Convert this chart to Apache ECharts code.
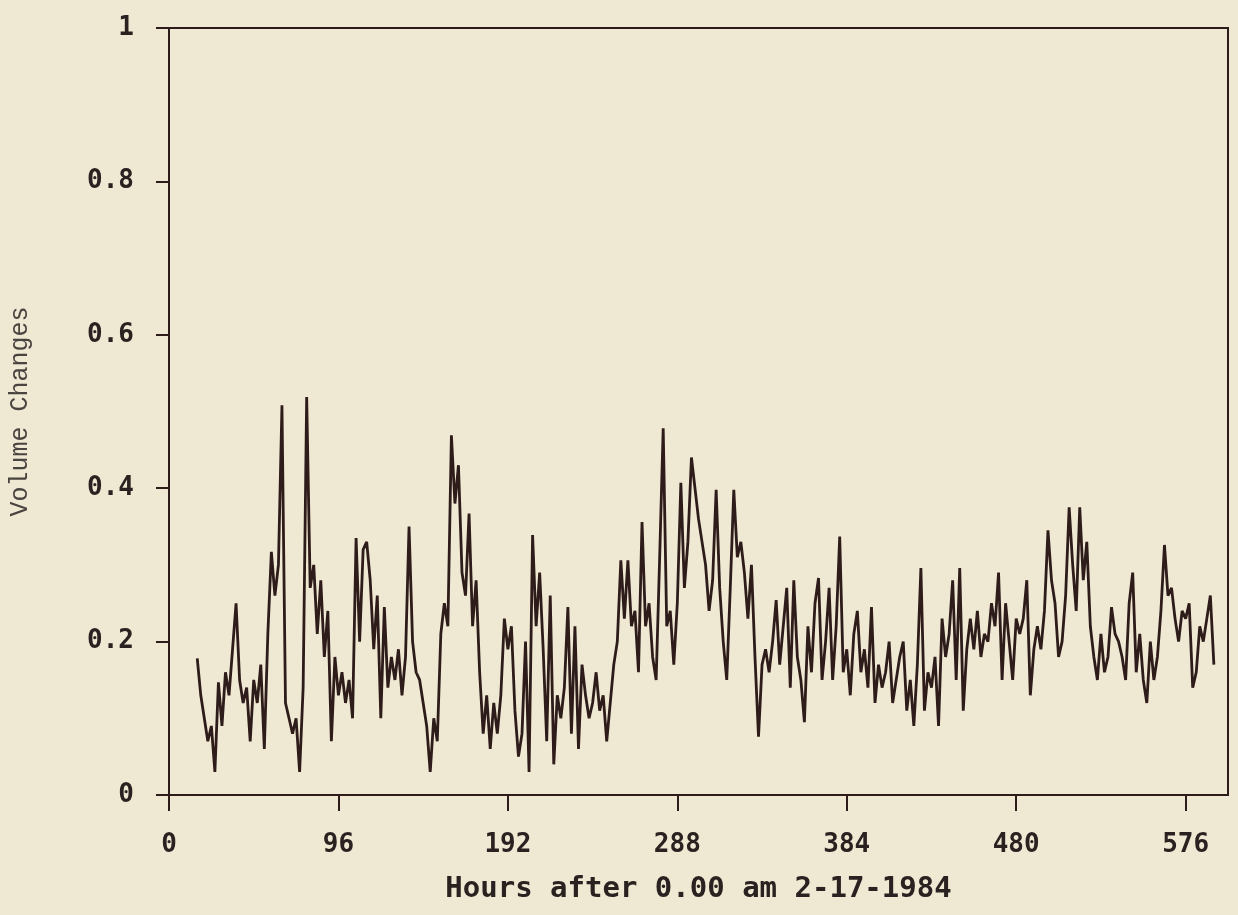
<!DOCTYPE html>
<html>
<head>
<meta charset="utf-8">
<script src="https://cdn.jsdelivr.net/npm/echarts@6/dist/echarts.min.js"></script>
<style>
html,body{margin:0;padding:0;background:#efe8d2;}
#chart{width:1238px;height:915px;}
</style>
</head>
<body>
<div id="chart"></div>
<script>
// Time axis: first sample hour and sampling step (hours)
const START_HOUR = 16;
const STEP_HOURS = 2;
// Volume changes, one value per 2 hours (hours 16..592)
const volumeChanges = [
  0.178,0.13,0.10,0.07,0.09,0.03,0.147,0.09,0.16,0.13,0.19,0.25,0.15,0.12,0.14,0.07,0.15,0.12,0.17,0.06,
  0.21,0.317,0.26,0.30,0.508,0.12,0.10,0.08,0.10,0.03,0.14,0.519,0.27,0.30,0.21,0.28,0.18,0.24,0.07,0.18,
  0.13,0.16,0.12,0.15,0.10,0.335,0.20,0.32,0.33,0.28,0.19,0.26,0.10,0.245,0.14,0.18,0.15,0.19,0.13,0.18,
  0.35,0.20,0.16,0.15,0.12,0.09,0.03,0.10,0.07,0.21,0.25,0.22,0.469,0.38,0.43,0.29,0.26,0.367,0.22,0.28,
  0.16,0.08,0.13,0.06,0.12,0.08,0.13,0.23,0.19,0.22,0.11,0.05,0.08,0.20,0.03,0.339,0.22,0.29,0.19,0.07,
  0.26,0.04,0.13,0.10,0.14,0.245,0.08,0.22,0.06,0.17,0.13,0.10,0.12,0.16,0.11,0.13,0.07,0.12,0.17,0.20,
  0.306,0.23,0.306,0.22,0.24,0.16,0.356,0.22,0.25,0.18,0.15,0.31,0.478,0.22,0.24,0.17,0.25,0.407,0.27,0.33,
  0.44,0.40,0.36,0.33,0.30,0.24,0.28,0.398,0.27,0.20,0.15,0.27,0.398,0.31,0.33,0.29,0.23,0.30,0.18,0.076,
  0.17,0.19,0.16,0.20,0.254,0.17,0.22,0.27,0.14,0.28,0.18,0.15,0.095,0.22,0.16,0.25,0.283,0.15,0.20,0.27,
  0.15,0.22,0.337,0.16,0.19,0.13,0.21,0.24,0.16,0.19,0.14,0.245,0.12,0.17,0.14,0.16,0.20,0.12,0.15,0.18,
  0.20,0.11,0.15,0.09,0.17,0.296,0.11,0.16,0.14,0.18,0.09,0.23,0.18,0.21,0.28,0.15,0.296,0.11,0.19,0.23,
  0.19,0.24,0.18,0.21,0.20,0.25,0.22,0.29,0.15,0.25,0.20,0.15,0.23,0.21,0.23,0.28,0.13,0.19,0.22,0.19,
  0.24,0.345,0.28,0.25,0.18,0.20,0.26,0.375,0.30,0.24,0.375,0.28,0.33,0.22,0.18,0.15,0.21,0.16,0.18,0.245,
  0.21,0.20,0.18,0.15,0.25,0.29,0.16,0.21,0.15,0.12,0.20,0.15,0.18,0.24,0.326,0.26,0.27,0.23,0.20,0.24,
  0.23,0.25,0.14,0.16,0.22,0.20,0.23,0.26,0.17
];
const xTicks = [0, 96, 192, 288, 384, 480, 576];
const yTicks = [0, 0.2, 0.4, 0.6, 0.8, 1];
const xTitle = 'Hours after 0.00 am 2-17-1984';
const yTitle = 'Volume Changes';

const seriesData = volumeChanges.map((v, i) => [START_HOUR + i * STEP_HOURS, v]);
const ink = '#2e1c1b';
const labelFont = {fontFamily: 'DejaVu Sans Mono', fontWeight: 'bold', fontSize: 26, color: '#2a2220'};

const chart = echarts.init(document.getElementById('chart'), null, {renderer: 'canvas'});
chart.setOption({
  backgroundColor: '#efe8d2',
  animation: false,
  grid: {left: 167, right: 10, top: 28, bottom: 120, show: true, borderColor: ink, borderWidth: 2, backgroundColor: 'transparent'},
  xAxis: {
    type: 'value', min: 0, max: 600, interval: 96,
    axisLine: {show: true, onZero: false, lineStyle: {color: ink, width: 2}},
    axisTick: {show: true, inside: false, length: 16, lineStyle: {color: ink, width: 2}, customValues: xTicks},
    axisLabel: Object.assign({margin: 37, customValues: xTicks}, labelFont),
    splitLine: {show: false},
    name: xTitle, nameLocation: 'middle', nameGap: 80,
    nameTextStyle: {fontFamily: 'DejaVu Sans Mono', fontWeight: 'bold', fontSize: 29, color: '#2a2220'}
  },
  yAxis: {
    type: 'value', min: 0, max: 1, interval: 0.2,
    axisLine: {show: true, lineStyle: {color: ink, width: 2}},
    axisTick: {show: true, inside: false, length: 13, lineStyle: {color: ink, width: 2}, customValues: yTicks},
    axisLabel: Object.assign({margin: 35, customValues: yTicks}, labelFont),
    splitLine: {show: false},
    name: yTitle, nameLocation: 'middle', nameGap: 136, nameRotate: 90,
    nameTextStyle: {fontFamily: 'Liberation Mono', fontWeight: 'normal', fontSize: 25, color: '#4a4440'}
  },
  series: [{
    type: 'line',
    data: seriesData,
    showSymbol: false,
    symbol: 'none',
    lineStyle: {color: ink, width: 2.8},
    emphasis: {disabled: true}
  }]
});
</script>
</body>
</html>
